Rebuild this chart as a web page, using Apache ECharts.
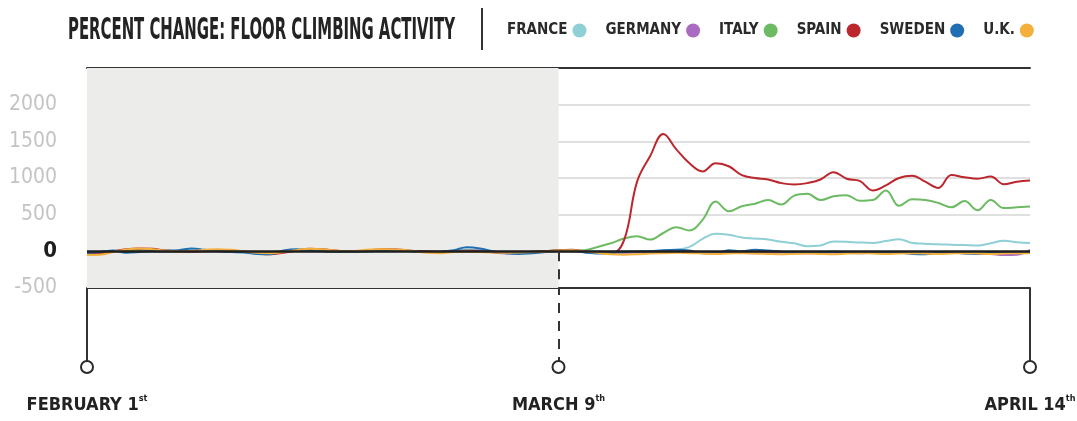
<!DOCTYPE html>
<html>
<head>
<meta charset="utf-8">
<script src="https://cdn.jsdelivr.net/npm/echarts@6/dist/echarts.min.js"></script>
<style>
html,body{margin:0;padding:0;background:#fff;}
#c{width:1077px;height:421px;}
</style>
</head>
<body>
<div id="c"></div>
<script>
// ---- data ----
const titleText = 'PERCENT CHANGE: FLOOR CLIMBING ACTIVITY';
const countries = ['FRANCE', 'GERMANY', 'ITALY', 'SPAIN', 'SWEDEN', 'U.K.'];
const tickDays = [0, 36, 72];
const tickLabels = ['FEBRUARY 1', 'MARCH 9', 'APRIL 14'];
const tickSuffix = ['st', 'th', 'th'];
const yTicks = [-500, 0, 500, 1000, 1500, 2000];

const france = [
  -20,-10,5,10,5,0,-5,0,10,5,
  0,-5,-10,-15,-10,0,5,10,5,0,
  -5,-5,0,10,15,5,-5,-10,0,20,
  10,-10,-15,-10,-5,0,5,10,5,0,
  -5,0,5,5,10,20,60,170,240,225,
  190,175,160,130,110,70,80,135,130,120,
  115,140,165,115,105,95,90,85,80,110,
  145,125,115];
const germany = [
  -30,-20,0,15,10,0,-5,0,5,10,
  5,0,-10,-20,-25,-10,5,10,5,0,
  -5,0,10,15,10,0,-10,-10,0,15,
  10,-15,-30,-25,-10,0,10,0,-10,-15,
  -10,-20,-15,-10,-5,0,-5,-10,-15,-10,
  -20,-25,-20,-15,-20,-25,-20,-15,-20,-25,
  -20,-15,-20,-25,-30,-25,-20,-25,-30,-35,
  -50,-45,20];
const italy = [
  -15,-10,0,10,15,5,0,-5,5,10,
  5,0,-5,-15,-10,0,10,15,10,0,
  -5,0,10,15,10,0,-10,-5,0,10,
  5,-10,-20,-15,-5,5,15,10,15,60,
  110,175,205,160,250,330,285,430,680,545,
  615,650,700,640,760,785,700,750,765,690,
  700,830,620,710,700,660,600,685,560,700,
  590,600,610];
const spain = [
  -40,-30,0,30,40,35,10,0,-5,0,
  5,0,-10,-30,-40,-20,10,35,30,10,
  0,5,20,30,20,5,0,-5,0,5,
  0,-10,-20,-15,-5,0,15,20,0,-20,
  -30,150,950,1300,1600,1390,1200,1090,1200,1160,
  1040,1000,980,930,910,930,980,1080,990,960,
  830,900,1000,1030,950,865,1040,1010,990,1020,
  915,950,965];
const sweden = [
  -20,-10,10,-20,-10,5,10,15,40,20,
  0,-10,-15,-35,-40,10,30,10,0,-5,
  -5,0,5,10,5,0,-10,-5,15,55,
  40,0,-25,-35,-25,-10,5,10,-15,-30,
  -20,-10,-5,0,15,20,10,-25,-30,15,
  0,20,10,-5,-10,-15,-10,-5,-10,-15,
  -20,-15,-20,-35,-40,-20,-15,-30,-35,-20,
  -10,-15,-10];
const uk = [
  -50,-45,-10,25,40,30,10,0,5,20,
  30,20,0,-20,-25,-10,15,35,30,10,
  0,15,30,30,20,0,-20,-25,-10,-5,
  -10,-15,-20,-15,-10,-5,10,15,0,-20,
  -40,-45,-40,-30,-25,-20,-25,-30,-35,-30,
  -25,-30,-35,-40,-35,-30,-35,-40,-30,-25,
  -30,-35,-30,-25,-30,-35,-30,-25,-30,-35,
  -30,-25,-25];

const seriesValues = [france, germany, italy, spain, sweden, uk];
const lineColors = ['#8fcfd6', '#a96cc2', '#6cbb63', '#bb272d', '#1f6fb2', '#f3b03d'];

// ---- layout helpers ----
const FONT = "'DejaVu Sans Condensed', 'Liberation Sans', sans-serif";
function measure(text, font) {
  const cv = document.createElement('canvas').getContext('2d');
  cv.font = font;
  return cv.measureText(text).width;
}
const titleFont = 'bold 30px ' + FONT;
const titleScale = 387 / measure(titleText, titleFont);

const chart = echarts.init(document.getElementById('c'), null, {renderer: 'canvas'});

const lineSeries = countries.map((name, k) => ({
  name: name,
  type: 'line',
  xAxisIndex: 0,
  yAxisIndex: 0,
  smooth: 0.4,
  symbol: 'none',
  color: lineColors[k],
  lineStyle: {width: 2, color: lineColors[k]},
  data: seriesValues[k].map((v, i) => [i, v]),
  z: 3
}));

lineSeries[0].markArea = {
  silent: true,
  itemStyle: {color: '#ececeb'},
  data: [[{xAxis: tickDays[0]}, {xAxis: tickDays[1]}]]
};
lineSeries[lineSeries.length - 1].markLine = {
  silent: true,
  symbol: 'none',
  label: {show: false},
  data: [
    {yAxis: 0, lineStyle: {color: '#1e1e1e', width: 2.5, type: 'solid'}},
    [{coord: [tickDays[1], 0], lineStyle: {color: '#333', width: 2, type: [10, 8]}},
     {coord: [tickDays[1], -500]}]
  ]
};

const option = {
  backgroundColor: '#fff',
  animation: false,
  textStyle: {fontFamily: FONT},
  legend: {
    data: countries,
    left: 507,
    top: 23,
    padding: 0,
    align: 'right',
    icon: 'circle',
    itemWidth: 14,
    itemHeight: 14,
    itemGap: 19,
    selectedMode: false,
    textStyle: {fontFamily: FONT, fontSize: 15, fontWeight: 'bold', color: '#2a2a2a'}
  },
  graphic: [
    {
      type: 'text',
      x: 68, y: 31,
      scaleX: titleScale,
      style: {text: titleText, font: titleFont, fill: '#232323', verticalAlign: 'middle', align: 'left'}
    },
    {
      type: 'line',
      shape: {x1: 482, y1: 8, x2: 482, y2: 50},
      style: {stroke: '#333', lineWidth: 2}
    }
  ],
  grid: [
    {left: 87, right: 47, top: 68, height: 220, containLabel: false, outerBoundsMode: 'none'},
    {left: 87, right: 47, top: 288, height: 79, containLabel: false, outerBoundsMode: 'none'}
  ],
  xAxis: [
    {
      gridIndex: 0, type: 'value', min: 0, max: 72, position: 'bottom',
      axisLine: {show: true, onZero: false, lineStyle: {color: '#333', width: 2}},
      axisTick: {show: false}, axisLabel: {show: false}, splitLine: {show: false}
    },
    {
      gridIndex: 0, type: 'value', min: 0, max: 72, position: 'top',
      axisLine: {show: true, onZero: false, lineStyle: {color: '#333', width: 2}},
      axisTick: {show: false}, axisLabel: {show: false}, splitLine: {show: false}
    },
    {
      gridIndex: 1, type: 'value', min: 0, max: 72, interval: 36, position: 'bottom',
      axisLine: {show: false}, axisTick: {show: false}, splitLine: {show: false},
      axisLabel: {
        show: true, margin: 27, showMinLabel: true, showMaxLabel: true,
        formatter: function (v) {
          const i = tickDays.indexOf(v);
          if (i < 0) return '';
          return '{m|' + tickLabels[i] + '}{s|' + tickSuffix[i] + '}';
        },
        rich: {
          m: {fontFamily: FONT, fontSize: 18, fontWeight: 'bold', color: '#222', lineHeight: 22},
          s: {fontFamily: FONT, fontSize: 9, fontWeight: 'bold', color: '#222', verticalAlign: 'top', lineHeight: 11}
        }
      }
    }
  ],
  yAxis: [
    {
      gridIndex: 0, type: 'value', min: -500, max: 2500, interval: 500,
      axisLine: {show: false}, axisTick: {show: false},
      splitLine: {show: true, lineStyle: {color: '#d6d6d6', width: 1.5}},
      axisLabel: {
        margin: 30,
        formatter: function (v) {
          if (yTicks.indexOf(v) < 0) return '';
          return v === 0 ? '{z|0}' : '{g|' + v + '}';
        },
        rich: {
          z: {fontFamily: FONT, fontSize: 22, fontWeight: 'bold', color: '#1e1e1e'},
          g: {fontFamily: FONT, fontSize: 21, color: '#c4c4c4'}
        }
      }
    },
    {
      gridIndex: 1, type: 'value', min: 0, max: 1, show: false
    }
  ],
  series: lineSeries.concat([
    {
      name: 'timeline-lines',
      type: 'line',
      xAxisIndex: 2, yAxisIndex: 1,
      data: [],
      silent: true,
      markLine: {
        silent: true, symbol: 'none', label: {show: false},
        data: [
          {xAxis: tickDays[0], lineStyle: {color: '#333', width: 2, type: 'solid'}},
          {xAxis: tickDays[1], lineStyle: {color: '#333', width: 2, type: [10, 8]}},
          {xAxis: tickDays[2], lineStyle: {color: '#333', width: 2, type: 'solid'}}
        ]
      },
      z: 1
    },
    {
      name: 'timeline-dots',
      type: 'scatter',
      xAxisIndex: 2, yAxisIndex: 1,
      silent: true,
      symbol: 'circle', symbolSize: 12,
      itemStyle: {color: '#fff', borderColor: '#2a2a2a', borderWidth: 2, opacity: 1},
      data: tickDays.map(d => [d, 0]),
      z: 5
    }
  ])
};
chart.setOption(option);
</script>
</body>
</html>
